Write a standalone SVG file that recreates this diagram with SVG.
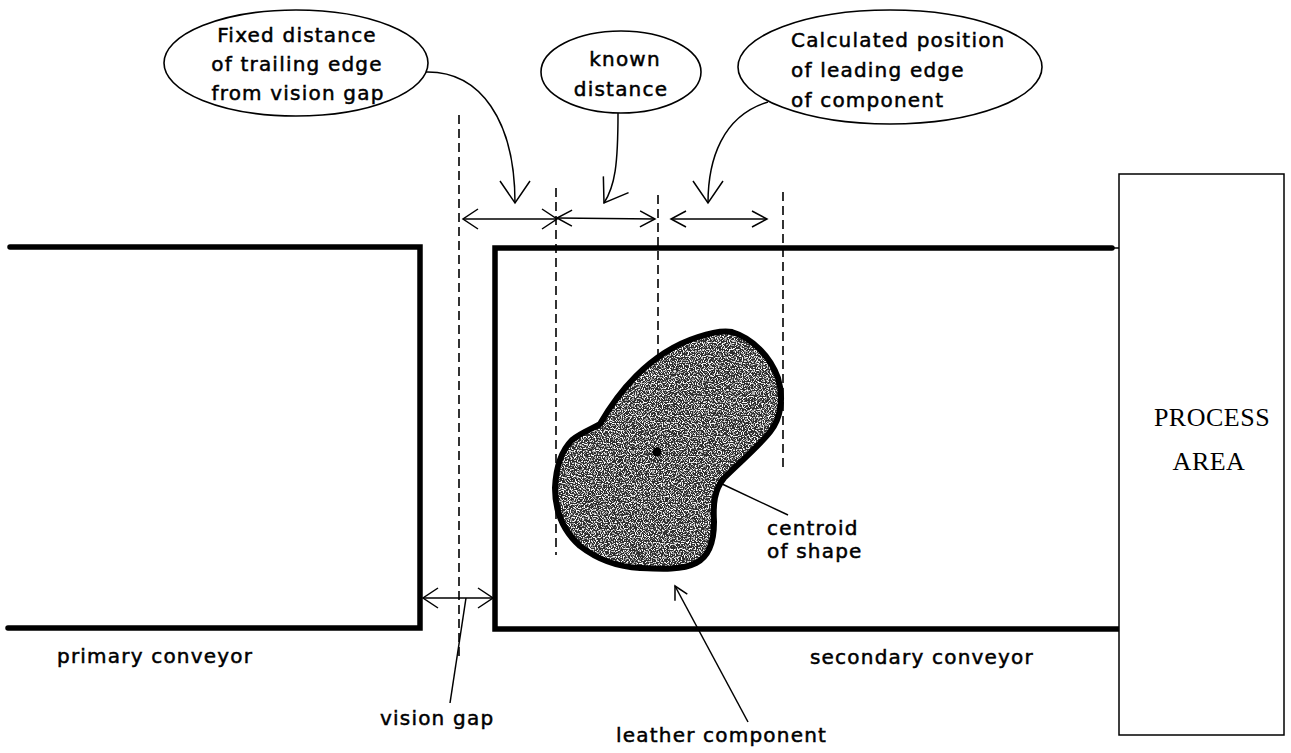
<svg xmlns="http://www.w3.org/2000/svg" width="1291" height="753" viewBox="0 0 1291 753">
  <style>
    .lbl { font-family: "DejaVu Sans", "Liberation Sans", sans-serif; font-size: 20px; letter-spacing: 1.2px; fill: #000; stroke: #000; stroke-width: 0.5px; }
    .serif { font-family: "Liberation Serif", "DejaVu Serif", serif; font-size: 26px; letter-spacing: 0.5px; fill: #000; }
    .belt { fill: none; stroke: #000; stroke-width: 5.5; stroke-linejoin: miter; stroke-linecap: round; }
    .thin { fill: none; stroke: #000; stroke-width: 1.5; }
    .bubble { fill: #fff; stroke: #000; stroke-width: 1.6; }
    .guide { fill: none; stroke: #000; stroke-width: 1.6; stroke-dasharray: 9 5; }
    .lead { fill: none; stroke: #000; stroke-width: 1.5; }
  </style>
  <defs>
    <!-- large open V head for the callout curves -->
    <marker id="vhead" markerUnits="userSpaceOnUse" viewBox="-26 -18 30 36" markerWidth="30" markerHeight="36" refX="0" refY="0" orient="auto" style="overflow:visible">
      <path d="M-22,-15 L0,0 L-22,15" fill="none" stroke="#000" stroke-width="1.5"/>
    </marker>
    <!-- dimension arrow heads -->
    <marker id="dim" markerUnits="userSpaceOnUse" viewBox="-18 -13 20 26" markerWidth="20" markerHeight="26" refX="0" refY="0" orient="auto-start-reverse" style="overflow:visible">
      <path d="M-15,-10 L0,0 L-15,10" fill="none" stroke="#000" stroke-width="1.5"/>
    </marker>
    <marker id="dimS" markerUnits="userSpaceOnUse" viewBox="-18 -13 20 26" markerWidth="20" markerHeight="26" refX="0" refY="0" orient="auto-start-reverse" style="overflow:visible">
      <path d="M-15,-8 L0,0 L-15,8" fill="none" stroke="#000" stroke-width="1.5"/>
    </marker>
    <marker id="small" markerUnits="userSpaceOnUse" viewBox="-14 -9 16 18" markerWidth="16" markerHeight="18" refX="0" refY="0" orient="auto" style="overflow:visible">
      <path d="M-13,-7 L0,0 L-13,7" fill="none" stroke="#000" stroke-width="1.5"/>
    </marker>
    <!-- speckled texture for the hide -->
    <filter id="grain" x="0" y="0" width="1" height="1">
      <feTurbulence type="fractalNoise" baseFrequency="0.85" numOctaves="1" seed="7" result="noise"/>
      <feColorMatrix in="noise" type="matrix" values="0 0 0 0 1  0 0 0 0 1  0 0 0 0 1  7 0 0 0 -3.5" result="specks"/>
      <feComposite in="specks" in2="SourceGraphic" operator="in" result="clipped"/>
      <feMerge>
        <feMergeNode in="SourceGraphic"/>
        <feMergeNode in="clipped"/>
      </feMerge>
    </filter>
    <path id="hide-outline" d="M732,332 C752,338 770,356 778,378 C784,398 781,418 770,432 C758,447 740,462 724,478 C714,490 713,505 714,522 C714,540 710,556 696,563 C682,570 662,569 640,568 C618,567 598,560 580,546 C562,530 555,510 555,488 C556,466 562,450 572,440 C582,432 594,428 600,424 C608,410 620,392 636,376 C654,358 676,344 698,337 C710,333 722,330 732,332 Z"/>
  </defs>

  <rect width="1291" height="753" fill="#fff"/>

  <!-- primary conveyor -->
  <g id="primary-conveyor">
    <polyline class="belt" points="10,247 420,247 420,628 8,628"/>
    <text class="lbl" x="57" y="663">primary conveyor</text>
  </g>

  <!-- secondary conveyor -->
  <g id="secondary-conveyor">
    <polyline class="belt" points="1112,248 495,248 495,629 1122,629"/>
    <line class="thin" x1="1112" y1="248" x2="1119" y2="248"/>
    <text class="lbl" x="810" y="664">secondary conveyor</text>
  </g>

  <!-- process area -->
  <g id="process-area">
    <rect x="1119" y="174" width="165" height="561" fill="#fff" stroke="#000" stroke-width="1.5"/>
    <text class="serif" x="1212" y="426" text-anchor="middle">PROCESS</text>
    <text class="serif" x="1209" y="470" text-anchor="middle">AREA</text>
  </g>

  <!-- leather component -->
  <g id="leather-component">
    <use href="#hide-outline" fill="#2f2f2f" filter="url(#grain)"/>
    <use href="#hide-outline" fill="none" stroke="#000" stroke-width="6" stroke-linejoin="round"/>
    <circle cx="657" cy="452" r="4.5" fill="#000"/>
    <text class="lbl" x="767" y="535">centroid<tspan x="767" dy="23">of shape</tspan></text>
    <text class="lbl" x="616" y="742">leather component</text>
  </g>

  <!-- callout bubbles -->
  <g id="callout-trailing">
    <ellipse class="bubble" cx="296" cy="63" rx="132" ry="53"/>
    <text class="lbl" x="297" y="42" text-anchor="middle">Fixed distance</text>
    <text class="lbl" x="297" y="71" text-anchor="middle">of trailing edge</text>
    <text class="lbl" x="298" y="100" text-anchor="middle">from vision gap</text>
  </g>
  <g id="callout-known">
    <ellipse class="bubble" cx="621" cy="72" rx="80" ry="41"/>
    <text class="lbl" x="625" y="66" text-anchor="middle">known</text>
    <text class="lbl" x="621" y="96" text-anchor="middle">distance</text>
  </g>
  <g id="callout-leading">
    <ellipse class="bubble" cx="890" cy="67" rx="152" ry="57"/>
    <text class="lbl" x="791" y="47">Calculated position</text>
    <text class="lbl" x="791" y="77">of leading edge</text>
    <text class="lbl" x="791" y="107">of component</text>
  </g>

  <g id="vision-gap-label">
    <text class="lbl" x="380" y="725">vision gap</text>
  </g>

  <!-- connectors: guides, dimensions and leaders -->
  <g id="connectors">
    <line class="guide" x1="459" y1="115" x2="459" y2="656"/>
    <line class="guide" x1="556" y1="188" x2="556" y2="555"/>
    <line class="guide" x1="658" y1="195" x2="658" y2="355"/>
    <line class="guide" x1="783" y1="192" x2="783" y2="467"/>

    <line class="lead" x1="463" y1="219" x2="557" y2="219" stroke-width="2" marker-start="url(#dim)" marker-end="url(#dim)"/>
    <line class="lead" x1="557" y1="218" x2="655" y2="219" marker-start="url(#dimS)" marker-end="url(#dimS)"/>
    <line class="lead" x1="671" y1="219" x2="767" y2="219" marker-start="url(#dimS)" marker-end="url(#dimS)"/>

    <path class="lead" d="M426,72 C480,71 515,120 515,203" marker-end="url(#vhead)"/>
    <path class="lead" d="M618,113 C618,165 615,186 604,203" marker-end="url(#vhead)"/>
    <path class="lead" d="M768,102 C722,116 708,160 708,203" marker-end="url(#vhead)"/>

    <line class="lead" x1="423" y1="598" x2="493" y2="598" marker-start="url(#dim)" marker-end="url(#dim)"/>
    <line class="lead" x1="466" y1="598" x2="450" y2="703"/>

    <line class="lead" x1="720" y1="483" x2="788" y2="515"/>
    <line class="lead" x1="748" y1="722" x2="675" y2="586" marker-end="url(#small)"/>
  </g>
</svg>
